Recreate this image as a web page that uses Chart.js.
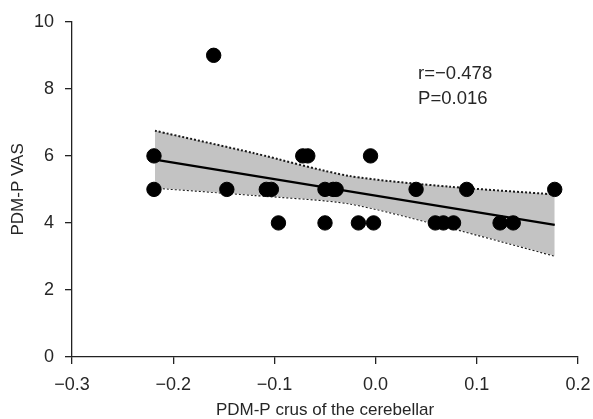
<!DOCTYPE html>
<html>
<head>
<meta charset="utf-8">
<title>PDM-P VAS vs crus</title>
<script src="https://cdn.jsdelivr.net/npm/chart.js@4.4.1/dist/chart.umd.min.js"></script>
<style>
    body { margin: 0; background: #fff; }
    #scatter-chart { display: block; }
</style>
</head>
<body>
<canvas id="scatter-chart" width="593" height="419"></canvas>
<script>
// --- DATA ---
const crusValues = [-0.160, -0.219, -0.219, -0.147, -0.108, -0.103, -0.096, -0.072, -0.067, -0.050, -0.042, -0.039,
                    -0.050, -0.017, -0.002, -0.005, 0.040, 0.059, 0.067, 0.077, 0.090, 0.123, 0.136, 0.177];
const vasValues = [9, 6, 5, 5, 5, 5, 4, 6, 6, 5, 5, 5,
                   4, 4, 4, 6, 5, 4, 4, 4, 5, 4, 4, 5];

// regression line ends
const fitX = [-0.218, 0.177];
const fitY = [5.89, 3.94];

// 95% confidence band
const bandX = [-0.218, -0.12, -0.026, 0.073, 0.177];
const bandUpper = [6.75, 6.08, 5.40, 5.08, 4.85];
const bandLower = [5.05, 4.83, 4.58, 3.86, 3.02];

const xTicks = [-0.3, -0.2, -0.1, 0.0, 0.1, 0.2];
const yTicks = [0, 2, 4, 6, 8, 10];
const statsLines = ['r=\u22120.478', 'P=0.016'];

document.addEventListener('DOMContentLoaded', function() {

    const textColor = '#262626';
    const fontFamily = '"Liberation Sans", Arial, Helvetica, sans-serif';

    const toPoints = (xs, ys) => xs.map((x, i) => ({ x: x, y: ys[i] }));
    const fmtTick = v => {
        const s = Math.abs(v) < 1e-9 ? '0.0' : v.toFixed(1);
        return s.replace('-', '\u2212');
    };

    // --- small plugin for the r / P text ---
    const statsText = {
        id: 'statsText',
        afterDatasetsDraw(chart) {
            const { ctx, scales } = chart;
            ctx.save();
            ctx.fillStyle = textColor;
            ctx.font = '18.5px ' + fontFamily;
            ctx.textAlign = 'left';
            ctx.textBaseline = 'middle';
            const x = scales.x.getPixelForValue(0.042);
            ctx.fillText(statsLines[0], x, scales.y.getPixelForValue(8.46));
            ctx.fillText(statsLines[1], x, scales.y.getPixelForValue(7.69));
            ctx.restore();
        }
    };

    const dotted = {
        showLine: true,
        borderColor: '#1a1a1a',
        borderWidth: 2,
        borderDash: [2, 2],
        pointRadius: 0,
        tension: 0.25,
        order: 3
    };

    new Chart(document.getElementById('scatter-chart'), {
        type: 'scatter',
        data: {
            datasets: [
                {
                    data: toPoints(crusValues, vasValues),
                    backgroundColor: '#000',
                    borderColor: '#000',
                    pointRadius: 7.2,
                    pointHoverRadius: 7.2,
                    order: 0
                },
                {
                    data: toPoints(fitX, fitY),
                    showLine: true,
                    borderColor: '#000',
                    borderWidth: 2.2,
                    pointRadius: 0,
                    order: 1
                },
                Object.assign({
                    data: toPoints(bandX, bandUpper),
                    fill: '+1',
                    backgroundColor: '#c3c3c3'
                }, dotted),
                Object.assign({
                    data: toPoints(bandX, bandLower),
                    fill: false
                }, dotted)
            ]
        },
        options: {
            responsive: false,
            animation: false,
            devicePixelRatio: 1,
            layout: { padding: { top: 20, right: 15, left: 0, bottom: 0 } },
            plugins: {
                legend: { display: false },
                tooltip: { enabled: false }
            },
            scales: {
                x: {
                    type: 'linear',
                    min: -0.3,
                    max: 0.2,
                    afterBuildTicks: scale => { scale.ticks = xTicks.map(v => ({ value: v })); },
                    afterFit: scale => { scale.height = 62; },
                    border: { display: true, color: '#222', width: 1.3 },
                    grid: { display: true, drawOnChartArea: false, drawTicks: true, tickLength: 7, color: '#222', lineWidth: 1.3 },
                    ticks: {
                        color: textColor,
                        // tall line box pushes the labels down without widening side padding
                        font: { family: fontFamily, size: 18, lineHeight: 2.3 },
                        padding: 0,
                        maxRotation: 0,
                        callback: v => fmtTick(v)
                    },
                    title: {
                        display: true,
                        text: 'PDM-P crus of the cerebellar',
                        color: textColor,
                        font: { family: fontFamily, size: 17, lineHeight: 1.0 },
                        padding: { top: 0, bottom: 0 }
                    }
                },
                y: {
                    type: 'linear',
                    min: 0,
                    max: 10,
                    afterBuildTicks: scale => { scale.ticks = yTicks.map(v => ({ value: v })); },
                    afterFit: scale => { scale.width = 72; },
                    border: { display: true, color: '#222', width: 1.3 },
                    grid: { display: true, drawOnChartArea: false, drawTicks: true, tickLength: 7, color: '#222', lineWidth: 1.3 },
                    ticks: {
                        color: textColor,
                        font: { family: fontFamily, size: 18 },
                        padding: 11,
                        callback: v => String(v)
                    },
                    title: {
                        display: true,
                        text: 'PDM-P VAS',
                        color: textColor,
                        font: { family: fontFamily, size: 17, lineHeight: 1.2 },
                        padding: { top: 8, bottom: 0 }
                    }
                }
            }
        },
        plugins: [statsText]
    });
});
</script>
</body>
</html>
